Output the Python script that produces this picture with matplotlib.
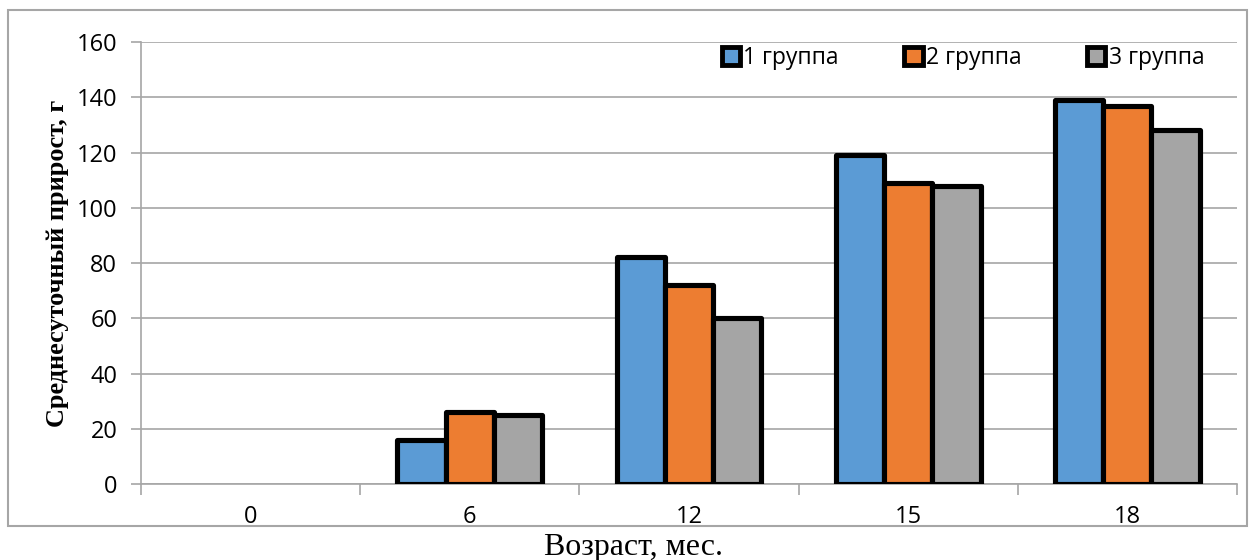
import matplotlib
matplotlib.use('Agg')
import matplotlib.pyplot as plt
import numpy as np
from matplotlib.patches import Rectangle

# данные
ages = ['0', '6', '12', '15', '18']
group1 = [0, 16, 82, 119, 139]
group2 = [0, 26, 72, 109, 137]
group3 = [0, 25, 60, 108, 128]
series_names = ['1 группа', '2 группа', '3 группа']
yticks = [0, 20, 40, 60, 80, 100, 120, 140, 160]

colors = ['#5b9bd5', '#ed7d31', '#a5a5a5']
grid_c = '#a6a6a6'


def fit_text(fig, t, target_px):
    # подгоняем размер шрифта под длину надписи на исходной картинке
    r = fig.canvas.get_renderer()
    bb = t.get_window_extent(r)
    size = max(bb.width, bb.height)
    t.set_fontsize(t.get_fontsize() * target_px / size)


def main():
    fig = plt.figure(figsize=(12.52, 5.6), dpi=100)
    ax = fig.add_axes([0.1126, 0.1357, 0.988 - 0.1126, 0.925 - 0.1357])

    # рамка вокруг диаграммы
    fig.patches.append(Rectangle((8 / 1252, 1 - 526 / 560), 1239 / 1252, 516 / 560,
                                 transform=fig.transFigure, fill=False,
                                 edgecolor=grid_c, linewidth=1.5))

    x = np.arange(len(ages))
    w = 0.22
    for i, (vals, c) in enumerate(zip([group1, group2, group3], colors)):
        v = np.array(vals, dtype=float)
        mask = v > 0
        ax.bar(x[mask] + (i - 1) * w, v[mask], w, color=c, edgecolor='black',
               linewidth=3.7, joinstyle='round', label=series_names[i], zorder=3)

    ax.set_xlim(-0.5, len(ages) - 0.5)
    ax.set_ylim(0, 160)
    ax.set_yticks(yticks)
    ax.set_xticks(x)
    ax.set_xticklabels(ages)
    ax.set_xticks(np.arange(len(ages) + 1) - 0.5, minor=True)
    ax.tick_params(axis='x', which='major', length=0, pad=15, labelsize=17)
    ax.tick_params(axis='x', which='minor', length=8, color=grid_c, width=1.2)
    ax.tick_params(axis='y', length=7, color=grid_c, width=1.2, labelsize=17, pad=10)
    for lab in ax.get_xticklabels() + ax.get_yticklabels():
        lab.set_fontfamily('Open Sans')

    ax.grid(axis='y', color=grid_c, linewidth=1.2, zorder=0)
    ax.set_axisbelow(True)
    for s in ['top', 'right']:
        ax.spines[s].set_visible(False)
    for s in ['left', 'bottom']:
        ax.spines[s].set_color(grid_c)
        ax.spines[s].set_linewidth(1.2)

    ylab = ax.set_ylabel('Среднесуточный прирост, г', fontfamily='Liberation Serif',
                         fontweight='bold', fontsize=20)
    ax.yaxis.set_label_coords(-0.0766, 0.5)
    ylab.set_va('center')
    xlab = fig.text(633 / 1252, 1 - 555 / 560, 'Возраст, мес.',
                    fontfamily='Liberation Serif', fontsize=23,
                    ha='center', va='baseline')
    fit_text(fig, ylab, 327)
    fit_text(fig, xlab, 179)

    leg = ax.legend(ncol=3, loc='center right', bbox_to_anchor=(0.989, 0.964),
                    frameon=False, handlelength=0.8, handleheight=0.8,
                    handletextpad=0.15, columnspacing=2.85,
                    prop={'family': 'Open Sans', 'size': 16.5})
    for h in leg.legend_handles:
        h.set_linewidth(3.5)

    fig.savefig('out.png', dpi=100)


if __name__ == '__main__':
    main()
